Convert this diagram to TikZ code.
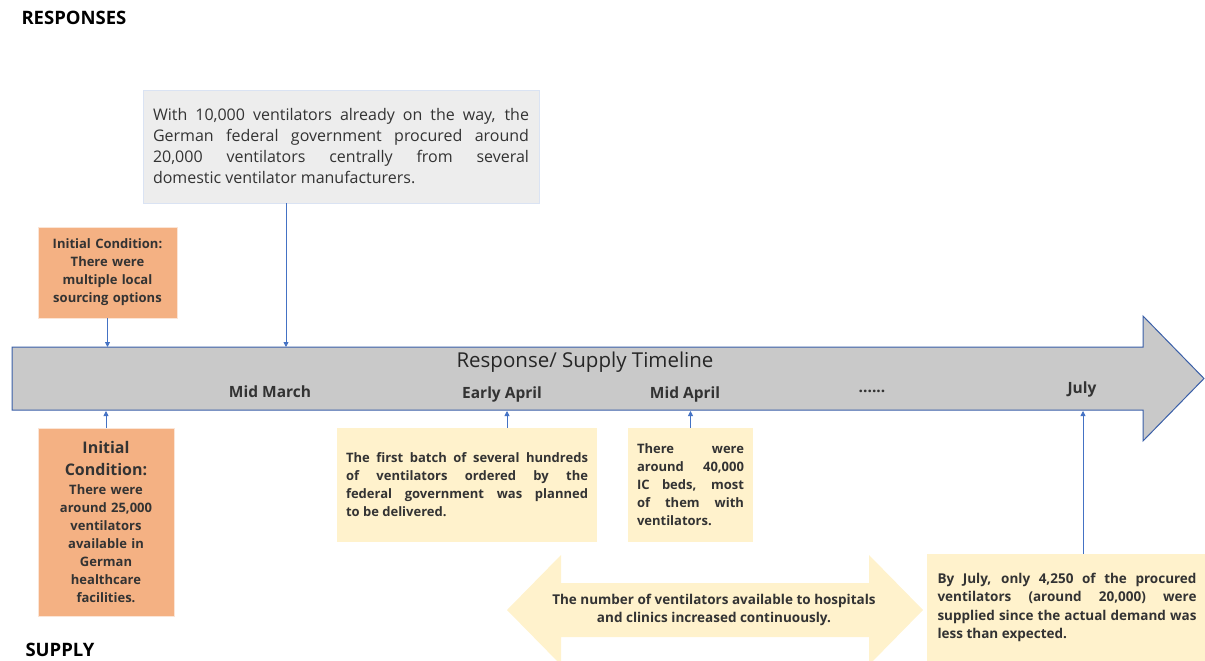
\documentclass[tikz,border=0pt]{standalone}
\usepackage{fontspec}
\setmainfont{Open Sans}
\usetikzlibrary{arrows.meta}

\definecolor{txtGrey}{HTML}{333333}
\definecolor{linkBlue}{HTML}{4472C4}
\definecolor{railBlue}{HTML}{3A5FA8}
\definecolor{railFill}{HTML}{C9C9C9}
\definecolor{respFill}{HTML}{EDEDED}
\definecolor{respLine}{HTML}{DAE3F3}
\definecolor{condFill}{HTML}{F4B183}
\definecolor{condLine}{HTML}{FBE5D6}
\definecolor{supFill}{HTML}{FFF2CC}

\begin{document}
\begin{tikzpicture}[x=1pt, y=-1pt, >={Triangle[length=5pt,width=5pt]}, text=txtGrey]
        \tikzset{
           respBox/.style={
                        rectangle,
                        draw=respLine,
                        fill=respFill,
                        inner sep=0pt,
                        align=justify,
                        font=\fontsize{16}{21}\selectfont
                       },
           condBox/.style={
                        rectangle,
                        draw=condLine,
                        fill=condFill,
                        inner sep=0pt,
                        align=center,
                        font=\bfseries\fontsize{13}{18}\selectfont
                       },
           supBox/.style={
                        rectangle,
                        fill=supFill,
                        inner sep=0pt,
                        align=justify,
                        font=\bfseries\fontsize{13}{18}\selectfont
                       },
           dateLabel/.style={
                        font=\bfseries\fontsize{15.5}{18}\selectfont
                       },
           heading/.style={
                        anchor=west,
                        font=\bfseries\fontsize{18.5}{20}\selectfont,
                        text=black
                       },
           timeline/.style={
                        draw=railBlue,
                        fill=railFill,
                        line width=1pt
                       },
           link/.style={
                        ->,
                        draw=linkBlue,
                        line width=0.8pt
                       },
                 }
        \useasboundingbox (0,0) rectangle (1205,661);
    %--------------------
        \draw[timeline] (12,347) -- (1143,347) -- (1143,316) -- (1204,378.5)
                        -- (1143,441) -- (1143,410) -- (12,410) -- cycle;
        \fill[supFill] (507,610) -- (561,555) -- (561,583) -- (869,583) -- (869,555)
                       -- (923,610) -- (869,665) -- (869,637) -- (561,637) -- (561,665) -- cycle;

        \coordinate (railTop)   at (0,347);
        \coordinate (railBot)   at (0,411);
        \coordinate (tMarch)    at (286,0);
        \coordinate (tEarlyApr) at (507,0);
        \coordinate (tJuly)     at (1083,0);
    %--------------------
        \node[heading]   (responses) at (18,18)  {RESPONSES};
        \node[heading]   (supply)    at (22,650) {SUPPLY};

        \node[font=\fontsize{20.5}{22}\selectfont, text=black!85] (title) at (585,362) {Response/ Supply Timeline};
        \node[dateLabel] (midMarch)  at (270,392)  {Mid March};
        \node[dateLabel] (earlyApr)  at (502,394)  {Early April};
        \node[dateLabel] (midApr)    at (685,394)  {Mid April};
        \node[dateLabel] (dots)      at (872,391)  {......};
        \node[dateLabel] (july)      at (1082,389) {July};

        \node[respBox, minimum width=396, minimum height=113, text width=376] (procure) at (341,146.5)
            {With 10,000 ventilators already on the way, the\linebreak
             German federal government procured around\linebreak
             20,000 ventilators centrally from several\linebreak
             domestic ventilator manufacturers.};

        \node[condBox, minimum width=139, minimum height=91, text width=135] (sourcing) at (107.5,272.5)
            {Initial Condition:\\ There were\\ multiple local\\ sourcing options};
        \node[condBox, minimum width=136, minimum height=188, text width=132] (stock) at (106,522)
            {\fontsize{16}{19}\selectfont Initial\\[3pt] Condition:\\[1pt]
             \fontsize{13}{18}\selectfont There were\\ around 25,000\\ ventilators\\ available in\\
             German\\ healthcare\\ facilities.};

        \node[supBox, minimum width=260, minimum height=114, text width=242] (firstBatch) at (467,485)
            {The first batch of several hundreds\linebreak
             of ventilators ordered by the\linebreak
             federal government was planned\linebreak
             to be delivered.};
        \node[supBox, minimum width=125, minimum height=114, text width=107] (icBeds) at (690.5,485)
            {There were\linebreak around 40,000\linebreak IC beds, most\linebreak of them with\linebreak ventilators.};
        \node[supBox, minimum width=280, minimum height=107, text width=259,
              font=\bfseries\fontsize{13.5}{18.5}\selectfont] (julySupply) at (1067,607.5)
            {By July, only 4,250 of the procured\linebreak
             ventilators (around 20,000) were\linebreak
             supplied since the actual demand was\linebreak
             less than expected.};

        \node[align=center, font=\bfseries\fontsize{13.5}{18}\selectfont] (growth) at (714,610)
            {The number of ventilators available to hospitals\\ and clinics increased continuously.};
    %--------------------
        \draw[link] (procure.south -| tMarch)   -- (tMarch |- railTop);
        \draw[link] (sourcing.south)            -- (sourcing.south |- railTop);
        \draw[link] (stock.north)               -- (stock.north |- railBot);
        \draw[link] (firstBatch.north -| tEarlyApr) -- (tEarlyApr |- railBot);
        \draw[link] (icBeds.north)              -- (icBeds.north |- railBot);
        \draw[link] (julySupply.north -| tJuly) -- (tJuly |- railBot);
    \end{tikzpicture}
\end{document}
